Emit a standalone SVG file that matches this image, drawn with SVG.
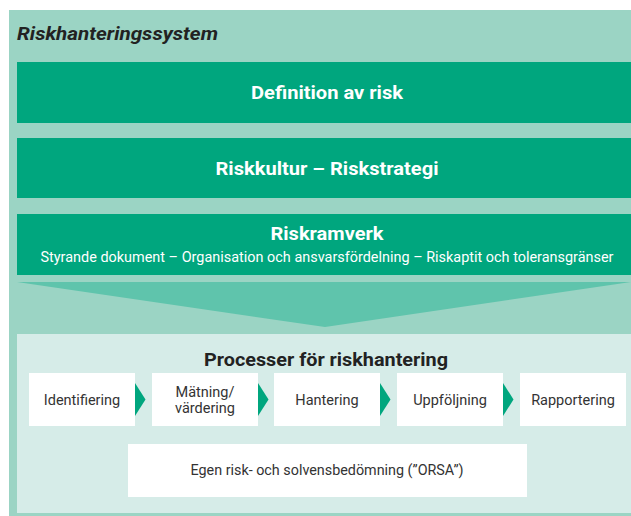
<svg xmlns="http://www.w3.org/2000/svg" width="631" height="516" viewBox="0 0 631 516">
<style>
.bg{fill:#9bd4c4}
.band{fill:#00a67e}
.light{fill:#d6ece8}
.box{fill:#ffffff}
.chev{fill:#5fc4ac}
.arr{fill:#00a67e}
.h{font-family:Roboto,"Liberation Sans",sans-serif;font-weight:700;font-size:18px;fill:#ffffff;text-anchor:middle}
.sub{font-family:Roboto,"Liberation Sans",sans-serif;font-size:14px;fill:#ffffff;text-anchor:middle}
.t{font-family:Roboto,"Liberation Sans",sans-serif;font-size:14.5px;fill:#333333;text-anchor:middle}
.title{font-family:Roboto,"Liberation Sans",sans-serif;font-weight:700;font-style:italic;font-size:18.5px;fill:#222222}
.ph{font-family:Roboto,"Liberation Sans",sans-serif;font-weight:700;font-size:19px;fill:#222222;text-anchor:middle}
</style>
<rect width="631" height="516" fill="#ffffff"/>
<g id="system">
<rect class="bg" x="9" y="10" width="622" height="506"/>
<text class="title" x="17" y="40" textLength="201" lengthAdjust="spacingAndGlyphs">Riskhanteringssystem</text>
</g>
<g id="definition">
<rect class="band" x="17" y="62" width="614" height="61"/>
<text class="h" x="327" y="99" textLength="152" lengthAdjust="spacingAndGlyphs">Definition av risk</text>
</g>
<g id="riskkultur">
<rect class="band" x="17" y="138" width="614" height="60"/>
<text class="h" x="327" y="175" textLength="223" lengthAdjust="spacingAndGlyphs">Riskkultur – Riskstrategi</text>
</g>
<g id="riskramverk">
<rect class="band" x="17" y="214" width="614" height="61"/>
<text class="h" x="327" y="240" textLength="113" lengthAdjust="spacingAndGlyphs">Riskramverk</text>
<text class="sub" x="327" y="262" textLength="573" lengthAdjust="spacingAndGlyphs">Styrande dokument – Organisation och ansvarsfördelning – Riskaptit och toleransgränser</text>
</g>
<g id="processer">
<rect class="light" x="17" y="334" width="614" height="179"/>
<text class="ph" x="326" y="366" textLength="244" lengthAdjust="spacingAndGlyphs">Processer för riskhantering</text>
</g>
<g id="identifiering">
<rect class="box" x="29" y="373" width="106" height="53"/>
<text class="t" x="82" y="405">Identifiering</text>
</g>
<g id="matning">
<rect class="box" x="152" y="373" width="106" height="53"/>
<text class="t" x="205" y="397">Mätning/</text>
<text class="t" x="205" y="413">värdering</text>
</g>
<g id="hantering">
<rect class="box" x="274" y="373" width="106" height="53"/>
<text class="t" x="327" y="405">Hantering</text>
</g>
<g id="uppfoljning">
<rect class="box" x="397" y="373" width="106" height="53"/>
<text class="t" x="450" y="405">Uppföljning</text>
</g>
<g id="rapportering">
<rect class="box" x="520" y="373" width="106" height="53"/>
<text class="t" x="573" y="405">Rapportering</text>
</g>
<g id="orsa">
<rect class="box" x="128" y="444" width="399" height="53"/>
<text class="t" x="327" y="475" textLength="273" lengthAdjust="spacingAndGlyphs">Egen risk- och solvensbedömning (”ORSA”)</text>
</g>
<g id="connectors">
<polygon class="chev" points="17,282 631,282 325,327"/>
<polygon class="arr" points="135,383 145.5,399.5 135,416"/>
<polygon class="arr" points="258,383 268.5,399.5 258,416"/>
<polygon class="arr" points="380,383 390.5,399.5 380,416"/>
<polygon class="arr" points="503,383 513.5,399.5 503,416"/>
</g>
</svg>
